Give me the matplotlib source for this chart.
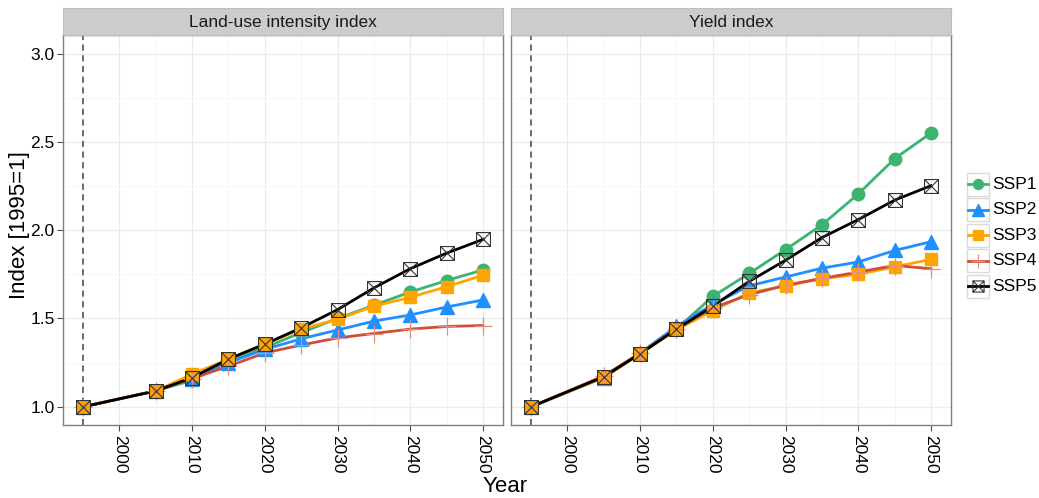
import numpy as np
import matplotlib
matplotlib.use("Agg")
import matplotlib.pyplot as plt
from matplotlib.path import Path
from matplotlib.patches import Rectangle

plt.rcParams["font.family"] = ["Liberation Sans", "DejaVu Sans"]

years = [1995, 2005, 2010, 2015, 2020, 2025, 2030, 2035, 2040, 2045, 2050]
scenarios = ["SSP1", "SSP2", "SSP3", "SSP4", "SSP5"]
panels = ["Land-use intensity index", "Yield index"]

# land-use intensity index per scenario
landuse_ssp1 = [1.0, 1.09, 1.15, 1.26, 1.335, 1.42, 1.50, 1.575, 1.65, 1.715, 1.775]
landuse_ssp2 = [1.0, 1.09, 1.16, 1.25, 1.325, 1.385, 1.435, 1.485, 1.52, 1.565, 1.605]
landuse_ssp3 = [1.0, 1.09, 1.185, 1.27, 1.355, 1.44, 1.495, 1.57, 1.62, 1.68, 1.745]
landuse_ssp4 = [1.0, 1.09, 1.16, 1.23, 1.305, 1.35, 1.39, 1.415, 1.44, 1.455, 1.46]
landuse_ssp5 = [1.0, 1.09, 1.165, 1.27, 1.355, 1.447, 1.55, 1.673, 1.782, 1.87, 1.948]

# yield index per scenario
yield_ssp1 = [1.0, 1.17, 1.30, 1.44, 1.625, 1.755, 1.89, 2.03, 2.205, 2.405, 2.55]
yield_ssp2 = [1.0, 1.165, 1.305, 1.455, 1.58, 1.685, 1.735, 1.785, 1.82, 1.885, 1.935]
yield_ssp3 = [1.0, 1.165, 1.30, 1.435, 1.545, 1.645, 1.685, 1.725, 1.75, 1.792, 1.835]
yield_ssp4 = [1.0, 1.175, 1.305, 1.44, 1.56, 1.635, 1.688, 1.727, 1.763, 1.80, 1.782]
yield_ssp5 = [1.0, 1.17, 1.30, 1.44, 1.57, 1.71, 1.83, 1.958, 2.06, 2.17, 2.252]

data = {
    panels[0]: [landuse_ssp1, landuse_ssp2, landuse_ssp3, landuse_ssp4, landuse_ssp5],
    panels[1]: [yield_ssp1, yield_ssp2, yield_ssp3, yield_ssp4, yield_ssp5],
}

# square with both diagonals (R shape 7)
box_x = Path(
    [(-1, -1), (1, -1), (1, 1), (-1, 1), (-1, -1), (-1, -1), (1, 1), (-1, 1), (1, -1)],
    [Path.MOVETO, Path.LINETO, Path.LINETO, Path.LINETO, Path.CLOSEPOLY,
     Path.MOVETO, Path.LINETO, Path.MOVETO, Path.LINETO],
)

styles = {
    "SSP1": dict(color="#3cb371", marker="o", ms=9, mfc="#3cb371", mec="#3cb371"),
    "SSP2": dict(color="#1e90ff", marker="^", ms=10.5, mfc="#1e90ff", mec="#1e90ff"),
    "SSP3": dict(color="#ffa500", marker="s", ms=9, mfc="#ffa500", mec="#ffa500"),
    "SSP4": dict(color="#cd4f39", marker="+", ms=13, mfc="#cd4f39", mec="#e88b80", mew=0.9),
    "SSP5": dict(color="black", marker=box_x, ms=10, mfc="none", mec="#333333", mew=0.8),
}

W, H = 1039, 498
fig = plt.figure(figsize=(W / 100, H / 100), dpi=100)


def px_rect(x0, y0, x1, y1):
    return [x0 / W, 1 - y1 / H, (x1 - x0) / W, (y1 - y0) / H]


panel_px = [(63, 35, 503, 425), (511, 35, 951, 425)]

for i, (name, (x0, y0, x1, y1)) in enumerate(zip(panels, panel_px)):
    ax = fig.add_axes(px_rect(x0, y0, x1, y1))
    ax.set_xlim(1992.25, 2052.75)
    ax.set_ylim(0.897, 3.105)

    ax.set_xticks(range(2000, 2051, 10))
    ax.set_xticks(range(1995, 2050, 10), minor=True)
    ax.set_yticks(np.arange(1.0, 3.01, 0.5))
    ax.set_yticks(np.arange(1.25, 3.0, 0.5), minor=True)
    ax.grid(which="major", color="#ebebeb", lw=0.9)
    ax.grid(which="minor", color="#f5f5f5", lw=0.6)
    ax.set_axisbelow(True)

    ax.tick_params(which="minor", length=0)
    ax.tick_params(which="major", length=4, color="#4d4d4d", width=0.8)
    ax.tick_params(axis="x", labelrotation=270, labelsize=12.5, pad=3)
    ax.tick_params(axis="y", labelsize=12.5, pad=2)
    if i == 1:
        ax.tick_params(axis="y", left=False, labelleft=False)
    for s in ax.spines.values():
        s.set_color("#7f7f7f")
        s.set_linewidth(1.0)

    ax.axvline(1995, color="#444444", lw=1.1, ls=(0, (4, 3)), zorder=1)

    for scen, vals in zip(scenarios, data[name]):
        st = styles[scen]
        ax.plot(years, vals, color=st["color"], lw=2.0, zorder=2)
        ax.plot(years, vals, ls="none", marker=st["marker"], ms=st["ms"],
                mfc=st["mfc"], mec=st["mec"], mew=st.get("mew", 1.0), zorder=3)

    # facet strip
    sx = fig.add_axes(px_rect(x0, 8, x1, 35))
    sx.set_xlim(0, 1)
    sx.set_ylim(0, 1)
    sx.set_facecolor("#cccccc")
    sx.set_xticks([])
    sx.set_yticks([])
    for s in sx.spines.values():
        s.set_color("#bdbdbd")
    sx.text(0.5, 0.48, name, ha="center", va="center", fontsize=12.5, color="#1a1a1a")

fig.text(505 / W, 1 - 486 / H, "Year", ha="center", va="center", fontsize=16)
fig.text(20 / W, 1 - 225 / H, "Index [1995=1]", ha="center", va="center",
         rotation=90, fontsize=16)

# legend drawn by hand so the key boxes look like ggplot keys
lg = fig.add_axes([0, 0, 1, 1], facecolor="none")
lg.set_xlim(0, W)
lg.set_ylim(H, 0)
lg.axis("off")
key_y = [184, 209.5, 235, 260.5, 286]
for scen, ky in zip(scenarios, key_y):
    st = styles[scen]
    lg.add_patch(Rectangle((967, ky - 11.5), 22, 23, facecolor="white",
                           edgecolor="#d9d9d9", lw=1.0))
    lg.plot([968, 988], [ky, ky], color=st["color"], lw=2.0)
    lg.plot([978], [ky], ls="none", marker=st["marker"], ms=st["ms"] * 0.8,
            mfc=st["mfc"], mec=st["mec"], mew=st.get("mew", 1.0))
    lg.text(992, ky, scen, ha="left", va="center", fontsize=12.5)

fig.savefig("out.png", dpi=100)
